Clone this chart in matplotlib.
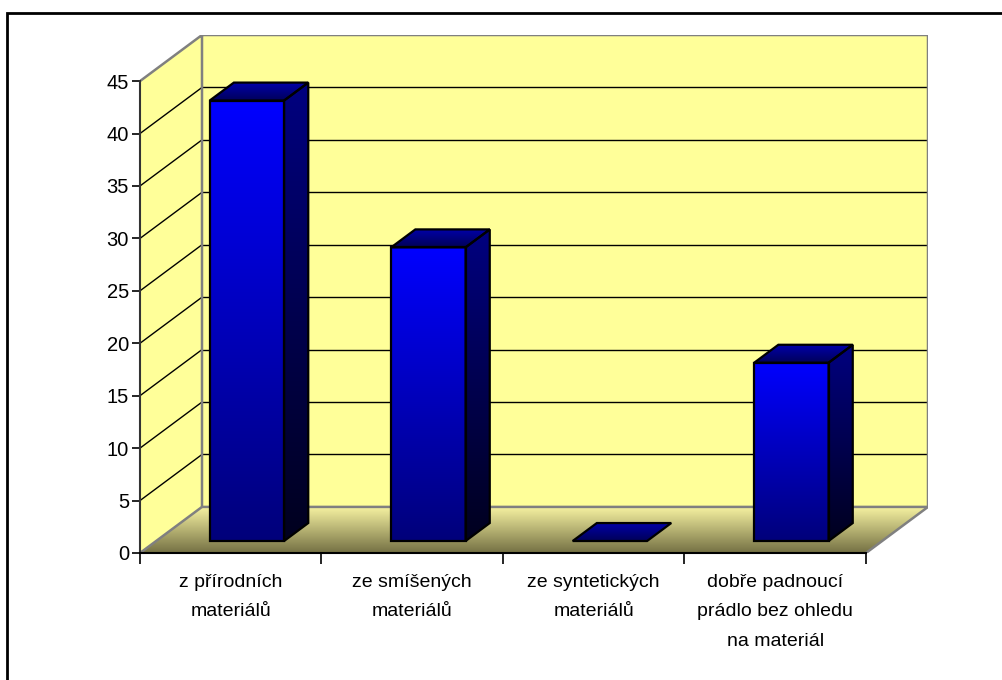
import numpy as np
import matplotlib
matplotlib.use("Agg")
import matplotlib.pyplot as plt
from matplotlib.patches import Polygon, Rectangle
from matplotlib.colors import LinearSegmentedColormap

plt.rcParams['font.family'] = ['Liberation Sans', 'DejaVu Sans']

kategorie = ["z přírodních\nmateriálů",
             "ze smíšených\nmateriálů",
             "ze syntetických\nmateriálů",
             "dobře padnoucí\nprádlo bez ohledu\nna materiál"]
hodnoty = [42, 28, 0, 17]
y_ticks = list(range(0, 50, 5))
y_max = 45

# hloubka 3D pohledu (v jednotkach kategorii a hodnot)
DX = 0.3416
DY = 4.395
# umisteni sloupce v hloubce podlahy a jeho sirka
d0, d1 = 0.26, 0.65
sirka = 0.41

zluta = "#FFFF99"
seda = "#808080"


def gradient(ax, poly, c_top, c_bottom):
    xs, ys = poly.get_xy()[:, 0], poly.get_xy()[:, 1]
    cmap = LinearSegmentedColormap.from_list("g", [c_bottom, c_top])
    img = np.linspace(0, 1, 256).reshape(-1, 1)
    im = ax.imshow(img, cmap=cmap, origin="lower", aspect="auto",
                   extent=[xs.min(), xs.max(), ys.min(), ys.max()],
                   interpolation="bilinear", zorder=poly.get_zorder())
    im.set_clip_path(poly)


fig = plt.figure(figsize=(10.02, 6.8), dpi=100)
ax = fig.add_axes([140 / 1002, (680 - 553) / 680, 788 / 1002, 518 / 680])

# zadni stena
ax.add_patch(Rectangle((DX, DY), 4, y_max, facecolor=zluta, edgecolor="none", zorder=1))
# bocni stena
ax.add_patch(Polygon([(0, 0), (0, y_max), (DX, y_max + DY), (DX, DY)],
                     closed=True, facecolor=zluta, edgecolor="none", zorder=1))
# podlaha s prechodem barvy
podlaha = Polygon([(0, 0), (4, 0), (4 + DX, DY), (DX, DY)], closed=True,
                  facecolor="none", edgecolor="none", zorder=1)
ax.add_patch(podlaha)
gradient(ax, podlaha, "#F8F4A2", "#747044")

# mrizka
for v in y_ticks[1:-1]:
    ax.plot([DX, 4 + DX], [v + DY, v + DY], color="black", lw=1, zorder=2)
    ax.plot([0, DX], [v, v + DY], color="black", lw=1, zorder=2)

# hrany sten
ax.plot([0, DX, 4 + DX, 4 + DX, DX, DX], [y_max, y_max + DY, y_max + DY, DY, DY, y_max + DY],
        color=seda, lw=1.8, zorder=2)
ax.plot([0, DX], [0, DY], color=seda, lw=1.8, zorder=2)
ax.plot([4, 4 + DX], [0, DY], color=seda, lw=1.8, zorder=2)

# sloupce
hx = (d1 - d0) * DX
hy = (d1 - d0) * DY
for i, v in enumerate(hodnoty):
    xl = i + 0.5 - sirka / 2 + d0 * DX
    xr = xl + sirka
    yb = d0 * DY
    yt = v + d0 * DY
    z = 5 + i
    if v > 0:
        predni = Polygon([(xl, yb), (xr, yb), (xr, yt), (xl, yt)], closed=True,
                         facecolor="none", edgecolor="none", zorder=z)
        ax.add_patch(predni)
        gradient(ax, predni, "#0000FF", "#00007A")
        bok = Polygon([(xr, yb), (xr + hx, yb + hy), (xr + hx, yt + hy), (xr, yt)], closed=True,
                      facecolor="none", edgecolor="none", zorder=z)
        ax.add_patch(bok)
        gradient(ax, bok, "#000080", "#00001E")
        for p in (predni, bok):
            ax.add_patch(Polygon(p.get_xy(), closed=True, facecolor="none",
                                 edgecolor="black", lw=1.6, zorder=z + 0.5))
    vrch = Polygon([(xl, yt), (xr, yt), (xr + hx, yt + hy), (xl + hx, yt + hy)], closed=True,
                   facecolor="none", edgecolor="none", zorder=z)
    ax.add_patch(vrch)
    gradient(ax, vrch, "#0000A8", "#000058")
    ax.add_patch(Polygon(vrch.get_xy(), closed=True, facecolor="none",
                         edgecolor="black", lw=1.6, zorder=z + 0.5))

ax.set_xlim(0, 4 + DX)
ax.set_ylim(0, y_max + DY)

for s in ("top", "right"):
    ax.spines[s].set_visible(False)
ax.spines["left"].set_bounds(0, y_max)
ax.spines["bottom"].set_bounds(0, 4)
ax.spines["left"].set_color("#333333")
ax.spines["bottom"].set_color("black")
ax.spines["left"].set_linewidth(1.5)
ax.spines["bottom"].set_linewidth(1.5)
ax.spines["left"].set_zorder(3)
ax.spines["bottom"].set_zorder(3)

ax.set_yticks(y_ticks)
ax.tick_params(axis="y", direction="out", length=6, width=1.2, labelsize=14.5, pad=2)
ax.set_xticks(range(5))
ax.set_xticklabels([])
ax.set_xticks([i + 0.5 for i in range(4)], minor=True)
ax.set_xticklabels(kategorie, minor=True, fontsize=14, linespacing=1.95)
ax.tick_params(axis="x", which="major", direction="out", length=8, width=1.2)
ax.tick_params(axis="x", which="minor", length=0, pad=15)

# ramecek grafu
fig.add_artist(Rectangle((7 / 1002, -0.1), 1.2, (680 - 13) / 680 + 0.1, transform=fig.transFigure,
                         facecolor="none", edgecolor="black", lw=2))

fig.savefig("out.png", dpi=100)
